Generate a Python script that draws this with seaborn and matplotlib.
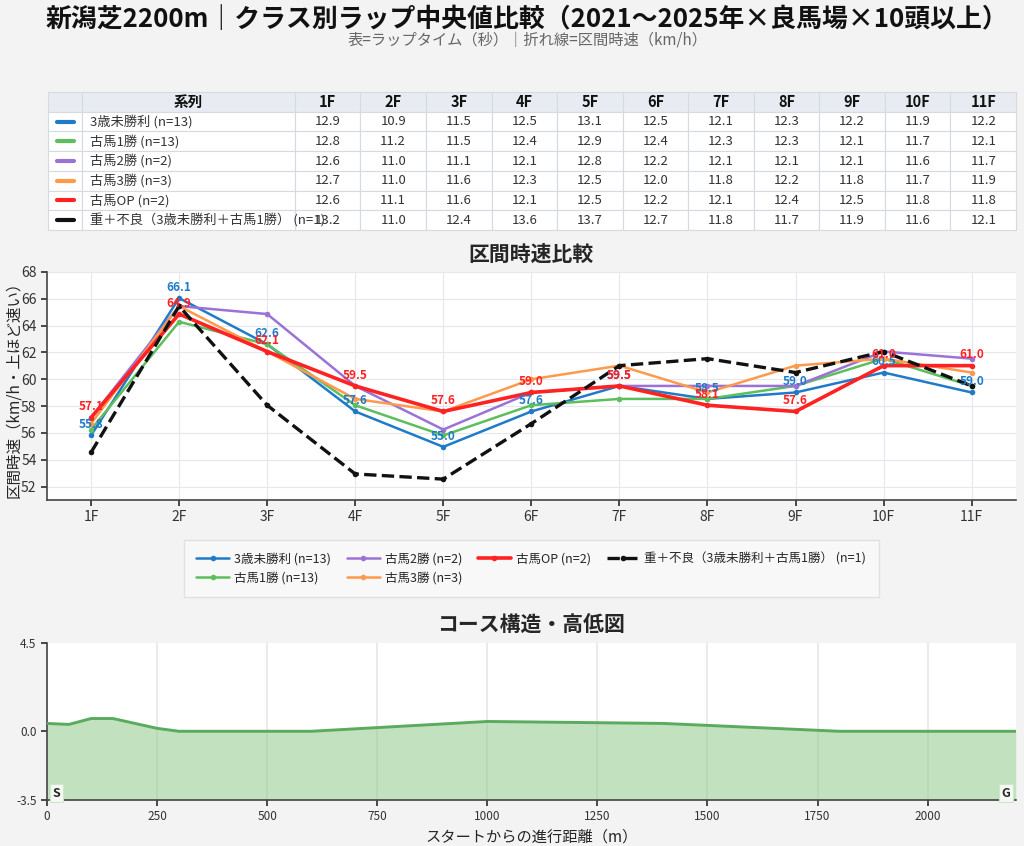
import numpy as np
import pandas as pd
import matplotlib
matplotlib.use('Agg')
import matplotlib.pyplot as plt
import seaborn as sns

# ラップ（秒）: 1F..11F
furlongs = ['1F', '2F', '3F', '4F', '5F', '6F', '7F', '8F', '9F', '10F', '11F']
series_names = ['3歳未勝利 (n=13)', '古馬1勝 (n=13)', '古馬2勝 (n=2)',
                '古馬3勝 (n=3)', '古馬OP (n=2)', '重＋不良（3歳未勝利＋古馬1勝） (n=1)']
laps_3sai = [12.9, 10.9, 11.5, 12.5, 13.1, 12.5, 12.1, 12.3, 12.2, 11.9, 12.2]
laps_1win = [12.8, 11.2, 11.5, 12.4, 12.9, 12.4, 12.3, 12.3, 12.1, 11.7, 12.1]
laps_2win = [12.6, 11.0, 11.1, 12.1, 12.8, 12.2, 12.1, 12.1, 12.1, 11.6, 11.7]
laps_3win = [12.7, 11.0, 11.6, 12.3, 12.5, 12.0, 11.8, 12.2, 11.8, 11.7, 11.9]
laps_op = [12.6, 11.1, 11.6, 12.1, 12.5, 12.2, 12.1, 12.4, 12.5, 11.8, 11.8]
laps_heavy = [13.2, 11.0, 12.4, 13.6, 13.7, 12.7, 11.8, 11.7, 11.9, 11.6, 12.1]
all_laps = [laps_3sai, laps_1win, laps_2win, laps_3win, laps_op, laps_heavy]

colors = ['#1f7bc8', '#5cbf5c', '#9b72d6', '#ff9a4c', '#ff2222', '#111111']
widths = [1.8, 1.8, 1.8, 1.8, 2.6, 2.4]

# 高低図（距離m, 高さm）
course_dist = [0, 50, 100, 150, 250, 300, 600, 1000, 1400, 1800, 2200]
course_elev = [0.4, 0.35, 0.65, 0.65, 0.15, 0.0, 0.0, 0.5, 0.4, 0.0, 0.0]

sns.set_theme(style='whitegrid')
plt.rcParams['font.family'] = ['Noto Sans CJK JP', 'DejaVu Sans']
plt.rcParams['axes.unicode_minus'] = False

fig = plt.figure(figsize=(10.24, 8.46), dpi=100, facecolor='#f3f3f3')
fig.text(0.515, 0.977, '新潟芝2200m｜クラス別ラップ中央値比較（2021〜2025年×良馬場×10頭以上）',
         ha='center', va='center', fontsize=18.6, fontweight='bold', color='#111111')
fig.text(0.515, 0.953, '表=ラップタイム（秒）｜折れ線=区間時速（km/h）',
         ha='center', va='center', fontsize=11, color='#666666')

# --- table ---
tax = fig.add_axes([0.0469, 0.7281, 0.9453, 0.1631])
tax.axis('off')
cell_text = [['', ''] + [f'{v:.1f}' for v in laps] for laps in all_laps]
col_w = [0.035, 0.22] + [(1 - 0.255) / 11] * 11
tbl = tax.table(cellText=cell_text, colLabels=['', '系列'] + furlongs,
                colWidths=col_w, bbox=[0, 0, 1, 1], cellLoc='center')
tbl.auto_set_font_size(False)
for (r, c), cell in tbl.get_celld().items():
    cell.set_edgecolor('#d5d9e0')
    cell.set_linewidth(0.8)
    cell.set_text_props(fontsize=9.5, color='#333333')
    if r == 0:
        cell.set_facecolor('#e8ecf2')
        cell.set_text_props(fontweight='bold', fontsize=10.5, color='#111111')
    else:
        cell.set_facecolor('white')
nrows = len(series_names) + 1
for i, (name, col) in enumerate(zip(series_names, colors)):
    yc = 1 - (i + 1.5) / nrows
    tax.plot([0.009, 0.027], [yc, yc], color=col, lw=3, transform=tax.transAxes, clip_on=False)
    # 系列名はセルからはみ出して描く
    tax.text(0.043, yc, name, ha='left', va='center', fontsize=9.5, color='#333333',
             transform=tax.transAxes, zorder=10)

# --- speed chart ---
ax = fig.add_axes([0.0459, 0.409, 0.946, 0.2695])
xs = np.arange(len(furlongs))
for name, laps, col, lw in zip(series_names, all_laps, colors, widths):
    spd = [200 / t * 3.6 for t in laps]
    ls = '--' if name.startswith('重') else '-'
    sns.lineplot(x=xs, y=spd, ax=ax, color=col, lw=lw, linestyle=ls, marker='o',
                 markersize=4, markeredgewidth=0, label=name, zorder=3)

for idx in [0, 4]:
    spd = [200 / t * 3.6 for t in all_laps[idx]]
    for x, v in zip(xs, spd):
        ax.annotate(f'{v:.1f}', (x, v), xytext=(0, 3), textcoords='offset points',
                    ha='center', va='bottom', fontsize=8.5, fontweight='bold',
                    color=colors[idx], zorder=5)

ax.set_xlim(-0.5, 10.5)
ax.set_ylim(51, 68)
ax.set_yticks(range(52, 69, 2))
ax.set_xticks(xs)
ax.set_xticklabels(furlongs)
ax.set_title('区間時速比較', fontsize=15, fontweight='bold', pad=8)
ax.set_ylabel('区間時速（km/h・上ほど速い）', fontsize=11.2)
ax.yaxis.set_label_coords(-0.026, 0.5)
ax.grid(color='#e6e6ee', lw=0.8)
ax.set_facecolor('white')
for s in ['top', 'right']:
    ax.spines[s].set_visible(False)
for s in ['left', 'bottom']:
    ax.spines[s].set_color('#444444')
    ax.spines[s].set_linewidth(1.2)
ax.tick_params(labelsize=10, length=4, left=True, bottom=True, colors='#333333')
ax.legend(loc='upper center', bbox_to_anchor=(0.5, -0.175), ncol=4, fontsize=9,
          frameon=True, fancybox=False, edgecolor='#dddddd', facecolor='#fafafa',
          borderaxespad=0, borderpad=1.0, columnspacing=1.3, handlelength=2.6,
          handletextpad=0.4)

# --- elevation ---
ex = fig.add_axes([0.0459, 0.0544, 0.946, 0.1856])
sns.lineplot(x=course_dist, y=course_elev, ax=ex, color='#5aab5e', lw=2.1, zorder=3)
ex.fill_between(course_dist, course_elev, -3.5, color='#8fca8c', alpha=0.55, lw=0)
ex.set_xlim(0, 2200)
ex.set_ylim(-3.5, 4.5)
ex.set_yticks([-3.5, 0.0, 4.5])
ex.set_yticklabels(['-3.5', '0.0', '4.5'])
ex.set_xticks([0, 250, 500, 750, 1000, 1250, 1500, 1750, 2000])
ex.grid(axis='y', visible=False)
ex.grid(axis='x', color='#e6e6e6', lw=1.2)
ex.set_facecolor('white')
ex.set_title('コース構造・高低図', fontsize=15, fontweight='bold', pad=8)
ex.set_xlabel('スタートからの進行距離（m）', fontsize=11)
for s in ['top', 'right']:
    ex.spines[s].set_visible(False)
for s in ['left', 'bottom']:
    ex.spines[s].set_color('#444444')
    ex.spines[s].set_linewidth(1.2)
ex.tick_params(labelsize=8.5, length=4, left=True, bottom=True, colors='#333333')
box = dict(boxstyle='square,pad=0.2', facecolor='#f4faf3', edgecolor='#cfe5cd', lw=0.8)
ex.text(12, -3.15, 'S', ha='left', va='center', fontsize=9, fontweight='bold', bbox=box, zorder=5)
ex.text(2188, -3.15, 'G', ha='right', va='center', fontsize=9, fontweight='bold', bbox=box, zorder=5)

fig.savefig('out.png', dpi=100, facecolor=fig.get_facecolor())
